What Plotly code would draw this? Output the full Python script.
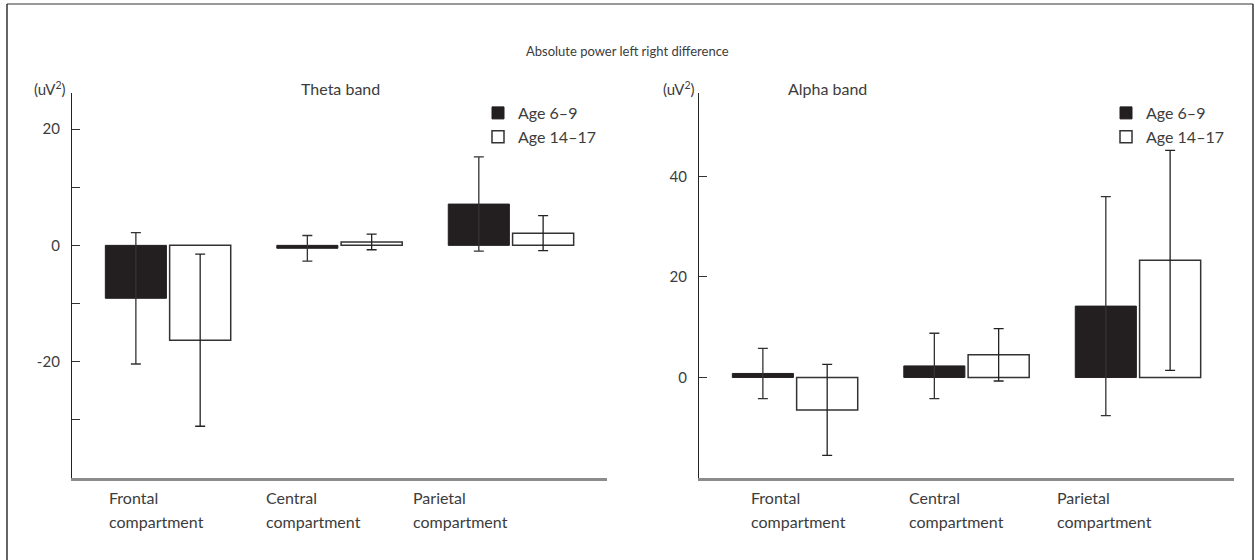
import plotly.graph_objects as go

categories = ["Frontal", "Central", "Parietal"]
cat_line2 = ["compartment", "compartment", "compartment"]
series_names = ["Age 6–9", "Age 14–17"]

theta_young = [-9.1, -0.5, 7.1]
theta_young_sd = [11.3, 2.2, 8.1]
theta_old = [-16.3, 0.6, 2.1]
theta_old_sd = [14.8, 1.35, 3.0]

alpha_young = [0.8, 2.3, 14.2]
alpha_young_sd = [5.0, 6.5, 21.8]
alpha_old = [-6.45, 4.5, 23.3]
alpha_old_sd = [9.05, 5.2, 21.9]

theta_ticks = [-20, 0, 20]
theta_ticktext = ["-20", "0", "20"]
alpha_ticks = [0, 20, 40]
alpha_ticktext = ["0", "20", "40"]

FONT = "Lato"
TXT = "#3c3c3c"
BLACK = "#231f20"

xs = [0, 1, 2]

W, H = 1255, 560


def px(x):
    return x / W


def py(y):
    return 1 - y / H


fig = go.Figure()


def add_pair(young, ysd, old, osd, xa, ya, legend):
    fig.add_trace(go.Bar(
        x=xs, y=young, name=series_names[0], xaxis=xa, yaxis=ya, legend=legend,
        marker=dict(color=BLACK, line=dict(color=BLACK, width=1)),
        error_y=dict(type="data", array=ysd, visible=True, color="#333333", thickness=1.3, width=5),
    ))
    fig.add_trace(go.Bar(
        x=xs, y=old, name=series_names[1], xaxis=xa, yaxis=ya, legend=legend,
        marker=dict(color="white", line=dict(color="#333333", width=1.5)),
        error_y=dict(type="data", array=osd, visible=True, color="#222222", thickness=1.3, width=5),
    ))


add_pair(theta_young, theta_young_sd, theta_old, theta_old_sd, "x", "y", "legend")
add_pair(alpha_young, alpha_young_sd, alpha_old, alpha_old_sd, "x2", "y2", "legend2")

xdom1 = [px(72), px(607)]
xdom2 = [px(699), px(1234)]
ydom = [py(478), py(93)]

xcommon = dict(range=[-0.56, 2.56], showticklabels=False, ticks="", showgrid=False,
               zeroline=False, showline=True, linecolor="#8c8c8c", linewidth=2.5,
               fixedrange=True)
ycommon = dict(showgrid=False, zeroline=False, showline=True, linecolor="#222222",
               linewidth=1.3, ticks="inside", ticklen=8, tickcolor="#333333",
               tickwidth=1.2, tickfont=dict(family=FONT, size=15, color=TXT),
               ticklabelstandoff=8, fixedrange=True)

fig.update_layout(
    width=W, height=H,
    margin=dict(l=0, r=0, t=0, b=0),
    paper_bgcolor="white", plot_bgcolor="white",
    barmode="group", bargap=0.25, bargroupgap=0.05,
    font=dict(family=FONT, size=14, color=TXT),
    xaxis=dict(domain=xdom1, anchor="y", **xcommon),
    xaxis2=dict(domain=xdom2, anchor="y2", **xcommon),
    yaxis=dict(domain=ydom, anchor="x", range=[-40, 26.2], tickvals=theta_ticks,
               ticktext=theta_ticktext,
               minor=dict(tick0=0, dtick=10, ticks="inside", ticklen=8,
                          tickcolor="#333333", tickwidth=1.2, showgrid=False),
               **ycommon),
    yaxis2=dict(domain=ydom, anchor="x2", range=[-20, 56.6], tickvals=alpha_ticks,
                ticktext=alpha_ticktext, **ycommon),
    legend=dict(x=px(478), y=py(96), xanchor="left", yanchor="top",
                bgcolor="rgba(0,0,0,0)", font=dict(family=FONT, size=16, color=TXT),
                tracegroupgap=0, itemclick=False),
    legend2=dict(x=px(1106), y=py(96), xanchor="left", yanchor="top",
                 bgcolor="rgba(0,0,0,0)", font=dict(family=FONT, size=16, color=TXT),
                 tracegroupgap=0, itemclick=False),
    showlegend=True,
)

ann = []
ann.append(dict(text="Absolute power left right difference", x=px(627), y=py(41),
                xref="paper", yref="paper", xanchor="center", showarrow=False,
                font=dict(family=FONT, size=13, color=TXT)))
ann.append(dict(text="Theta band", x=px(340), y=py(77), xref="paper", yref="paper",
                xanchor="center", showarrow=False, font=dict(family=FONT, size=16, color=TXT)))
ann.append(dict(text="Alpha band", x=px(827), y=py(77), xref="paper", yref="paper",
                xanchor="center", showarrow=False, font=dict(family=FONT, size=16, color=TXT)))
for ux in (32, 661):
    ann.append(dict(text="(uV<sup>2</sup>)", x=px(ux), y=py(77), xref="paper", yref="paper",
                    xanchor="left", showarrow=False, font=dict(family=FONT, size=15, color=TXT)))

label_x_left = [107, 264, 411]
label_x_right = [749, 907, 1055]
for lx_set in (label_x_left, label_x_right):
    for i, lx in enumerate(lx_set):
        ann.append(dict(text=categories[i], x=px(lx), y=py(509), xref="paper", yref="paper",
                        xanchor="left", showarrow=False, font=dict(family=FONT, size=16, color=TXT)))
        ann.append(dict(text=cat_line2[i], x=px(lx), y=py(533), xref="paper", yref="paper",
                        xanchor="left", showarrow=False, font=dict(family=FONT, size=16, color=TXT)))
fig.update_layout(annotations=ann)

# outer frame
fig.add_shape(type="line", xref="paper", yref="paper", x0=px(7), x1=px(1253),
              y0=py(4), y1=py(4), line=dict(color="#777777", width=1.5))
fig.add_shape(type="line", xref="paper", yref="paper", x0=px(7), x1=px(7),
              y0=py(4), y1=-0.05, line=dict(color="#333333", width=1.5))
fig.add_shape(type="line", xref="paper", yref="paper", x0=px(1253), x1=px(1253),
              y0=py(4), y1=-0.05, line=dict(color="#333333", width=1.5))

fig.write_html("out.html", config={"displayModeBar": False},
               post_script="document.body.style.margin='0px';document.body.style.overflow='hidden';")
